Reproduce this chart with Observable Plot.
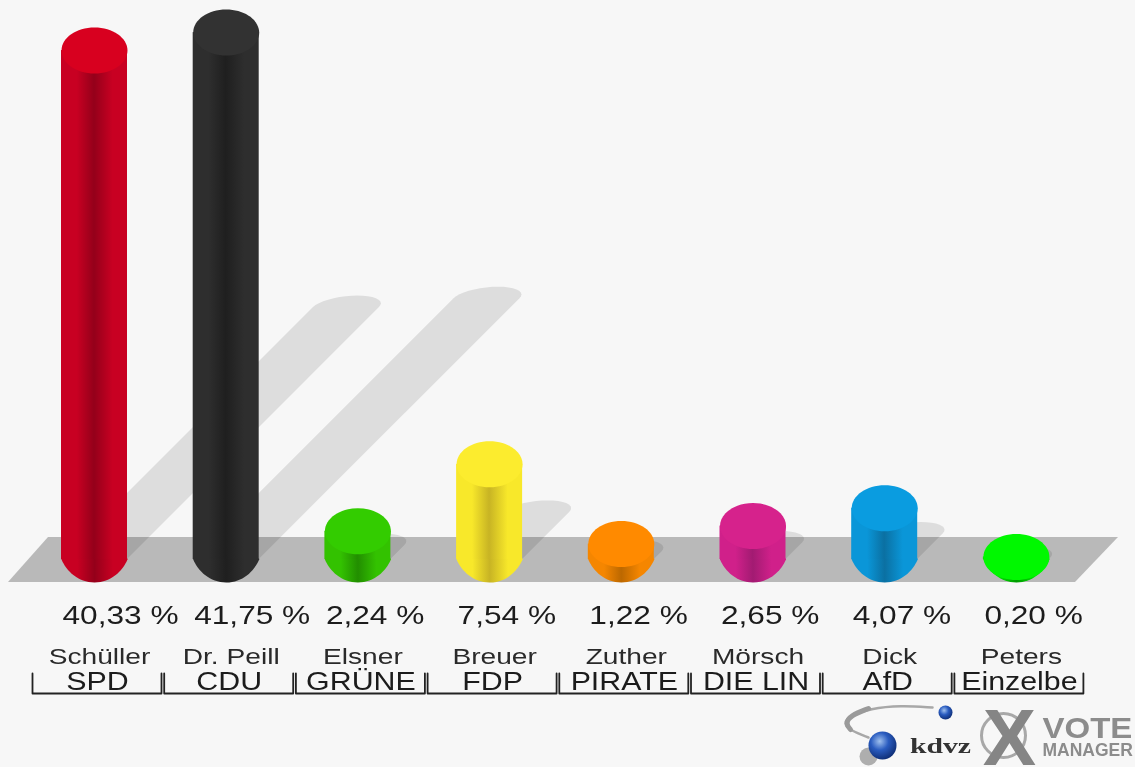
<!DOCTYPE html>
<html lang="de">
<head>
<meta charset="utf-8">
<script src="https://cdn.jsdelivr.net/npm/d3@7"></script>
<script src="https://cdn.jsdelivr.net/npm/@observablehq/plot@0.6"></script>
<style>
  html, body { margin: 0; padding: 0; background: #f7f7f7; }
  svg { display: block; background: linear-gradient(to right, #fff 7px, #f7f7f7 7px); filter: blur(0.7px); }
</style>
</head>
<body>
<script>
const candidates = ["Schüller", "Dr. Peill", "Elsner", "Breuer", "Zuther", "Mörsch", "Dick", "Peters"];
const parties = ["SPD", "CDU", "GRÜNE", "FDP", "PIRATE", "DIE LIN", "AfD", "Einzelbe"];
const percents = [40.33, 41.75, 2.24, 7.54, 1.22, 2.65, 4.07, 0.20];
const capColors = ["#d8001f", "#323232", "#33cc00", "#fcec2e", "#ff8a00", "#d6228c", "#0a9ce0", "#00f800"];
const edgeColors = ["#c80022", "#2e2e2e", "#33c200", "#f8e82a", "#f58600", "#d0208a", "#0a96d8", "#00e000"];
const coreColors = ["#94001a", "#1f1f1f", "#228e00", "#c8b424", "#bc6800", "#a21b72", "#0b70a2", "#009a00"];

// Scales: one x unit is one candidate slot, one y unit is one percentage point.
const slotPx = 131.7, pctPx = 12.62, firstPx = 94, basePx = 559, W = 1135, H = 767;
const ux = px => (px - firstPx) / slotPx;
const uy = px => (basePx - px) / pctPx;
const halfBar = 33 / slotPx, capRx = 33, capRy = 23;

const rows = candidates.map((name, i) => ({
  i, name, party: parties[i], value: percents[i],
  label: percents[i].toFixed(2).replace(".", ",") + " %",
  cap: capColors[i], grad: `url(#cyl${i})`
}));

const ellipse = {
  draw(c) {
    const k = 0.5523, a = capRx, b = capRy;
    c.moveTo(-a, 0);
    c.bezierCurveTo(-a, -k * b, -k * a, -b, 0, -b);
    c.bezierCurveTo(k * a, -b, a, -k * b, a, 0);
    c.bezierCurveTo(a, k * b, k * a, b, 0, b);
    c.bezierCurveTo(-k * a, b, -a, k * b, -a, 0);
    c.closePath();
  }
};
// The foot of each cylinder tapers a little more sharply than a true ellipse.
const foot = {
  draw(c) {
    const a = capRx, b = capRy;
    c.moveTo(-a, -1);
    c.lineTo(a, -1);
    c.lineTo(a, 0);
    c.bezierCurveTo(a * 0.85, b * 0.5, a * 0.5, b, 0, b);
    c.bezierCurveTo(-a * 0.5, b, -a * 0.85, b * 0.5, -a, 0);
    c.closePath();
  }
};

// Cast shadows: about half the bar's height, sheared 45 degrees, ending in a sheared half ellipse.
const shear = pctPx / slotPx;
const shadowCapRy = capRy / 2 / pctPx;
const shadowRows = rows.flatMap(r => {
  const top = r.value * 0.495;
  const out = [{ z: r.i, y: 0, x1: r.i - halfBar, x2: r.i + halfBar }];
  for (let a = 0; a <= 90; a += 10) {
    const t = a * Math.PI / 180, y = top + shadowCapRy * Math.sin(t), c = r.i + y * shear;
    out.push({ z: r.i, y, x1: c - halfBar * Math.cos(t), x2: c + halfBar * Math.cos(t) });
  }
  return out;
});

const floorRows = [
  { y: uy(582), x1: ux(8), x2: ux(1075) },
  { y: uy(537), x1: ux(48), x2: ux(1118) }
];

const bracketRows = rows.flatMap(r => {
  const l = r.i + ux(32) - ux(94), rt = r.i + ux(161) - ux(94), t = uy(673), b = uy(693);
  return [{ z: r.i, x: l, y: t }, { z: r.i, x: l, y: b }, { z: r.i, x: rt, y: b }, { z: r.i, x: rt, y: t }];
});

const stretch = (factor) => ({
  render(index, scales, values, dims, context, next) {
    const g = next(index, scales, values, dims, context);
    g.dataset.stretch = factor;
    return g;
  }
});
const sans = "'Liberation Sans', Arial, sans-serif";
const textCommon = { fontFamily: sans, fill: "#1c1c1c", lineAnchor: "bottom" };

const defs = () => {
  const d = d3.create("svg:defs");
  rows.forEach((r, i) => {
    const g = d.append("linearGradient").attr("id", `cyl${i}`).attr("x1", 0).attr("x2", 1).attr("y1", 0).attr("y2", 0);
    [[0, edgeColors[i]], [0.24, edgeColors[i]], [0.5, coreColors[i]], [0.78, edgeColors[i]], [1, edgeColors[i]]]
      .forEach(([o, c]) => g.append("stop").attr("offset", o).attr("stop-color", c));
  });
  const s = d.append("radialGradient").attr("id", "ball").attr("cx", 0.4).attr("cy", 0.35).attr("r", 0.7);
  [[0, "#9fc0ee"], [0.45, "#2a5cc0"], [1, "#0c2a70"]].forEach(([o, c]) => s.append("stop").attr("offset", o).attr("stop-color", c));
  return d.node();
};

const swoosh = [[932, 707], [900, 705], [870, 708], [848, 716], [843, 723], [850, 730], [868, 737]]
  .map(([x, y]) => ({ x: ux(x), y: uy(y) }));
const swooshThick = [[868, 708], [850, 715], [845, 723], [850, 729]]
  .map(([x, y]) => ({ x: ux(x), y: uy(y) }));

const chart = Plot.plot({
  width: W, height: H,
  margin: 0,
  x: { domain: [ux(0), ux(W)], range: [0, W], axis: null },
  y: { domain: [uy(0), uy(H)], range: [0, H], axis: null },
  color: { type: "identity" },
  style: { background: "none", overflow: "hidden" },
  marks: [
    defs,
    Plot.areaX(floorRows, { y: "y", x1: "x1", x2: "x2", fill: "#b9b9b9" }),
    Plot.areaX(shadowRows, { y: "y", x1: "x1", x2: "x2", z: "z", fill: "#000", fillOpacity: 0.1, curve: "linear" }),
    Plot.dot(rows, { x: "i", y: 0, symbol: foot, r: 1, fill: "grad", stroke: null }),
    Plot.rect(rows, { x1: d => d.i - halfBar, x2: d => d.i + halfBar, y1: 0, y2: "value", fill: "grad" }),
    Plot.dot(rows, { x: "i", y: "value", symbol: ellipse, r: 1, fill: "cap", stroke: null }),

    Plot.text(rows, { x: "i", y: uy(623), text: "label", dx: -32, textAnchor: "start", fontSize: 25.5, ...textCommon, ...stretch(1.24) }),
    Plot.text(rows, { x: "i", y: uy(663), text: "name", dx: 5, fontSize: 22.5, ...textCommon, fill: "#2a2a2a", ...stretch(1.25) }),
    Plot.text(rows, { x: "i", y: uy(689), text: "party", dx: 3, fontSize: 25.5, ...textCommon, ...stretch(1.19) }),
    Plot.line(bracketRows, { x: "x", y: "y", z: "z", stroke: "#222", strokeWidth: 1.8, curve: "linear" }),

    // kdvz logo
    Plot.line(swoosh, { x: "x", y: "y", stroke: "#a8a8a8", strokeWidth: 2.5, curve: "basis" }),
    Plot.line(swooshThick, { x: "x", y: "y", stroke: "#9a9a9a", strokeWidth: 5, curve: "basis" }),
    Plot.dot([0], { x: () => ux(868), y: () => uy(756), r: 9, fill: "#555", fillOpacity: 0.45 }),
    Plot.dot([0], { x: () => ux(882), y: () => uy(745), r: 14, fill: "url(#ball)" }),
    Plot.dot([0], { x: () => ux(945), y: () => uy(712), r: 7, fill: "url(#ball)" }),
    Plot.text(["kdvz"], { x: () => ux(940), y: uy(752), text: d => d, fontFamily: "'Liberation Serif', serif", fontWeight: "bold", fontSize: 22, fill: "#333", lineAnchor: "bottom", ...stretch(1.35) }),

    // Vote Manager logo
    Plot.dot([0], { x: () => ux(1003), y: () => uy(735), r: 22, fill: "none", stroke: "#a8a8a8", strokeWidth: 3 }),
    Plot.text(["X"], { x: () => ux(1009), y: uy(764), text: d => d, fontFamily: sans, fontWeight: "bold", fontSize: 80, fill: "#858585", lineAnchor: "bottom" }),
    Plot.text(["VOTE"], { x: () => ux(1042), y: uy(737), text: d => d, textAnchor: "start", fontFamily: sans, fontWeight: "bold", fontSize: 30, fill: "#8c8c8c", lineAnchor: "bottom", ...stretch(1.1) }),
    Plot.text(["MANAGER"], { x: () => ux(1042), y: uy(755), text: d => d, textAnchor: "start", fontFamily: sans, fontWeight: "bold", fontSize: 17.5, fill: "#8c8c8c", lineAnchor: "bottom" })
  ]
});
document.body.append(chart);

// The reference is horizontally stretched: keep real text and widen its glyphs.
chart.querySelectorAll("g[data-stretch]").forEach(g => {
  const f = +g.dataset.stretch;
  g.querySelectorAll("text").forEach(t => {
    t.setAttribute("textLength", t.getComputedTextLength() * f);
    t.setAttribute("lengthAdjust", "spacingAndGlyphs");
  });
});
</script>
</body>
</html>
